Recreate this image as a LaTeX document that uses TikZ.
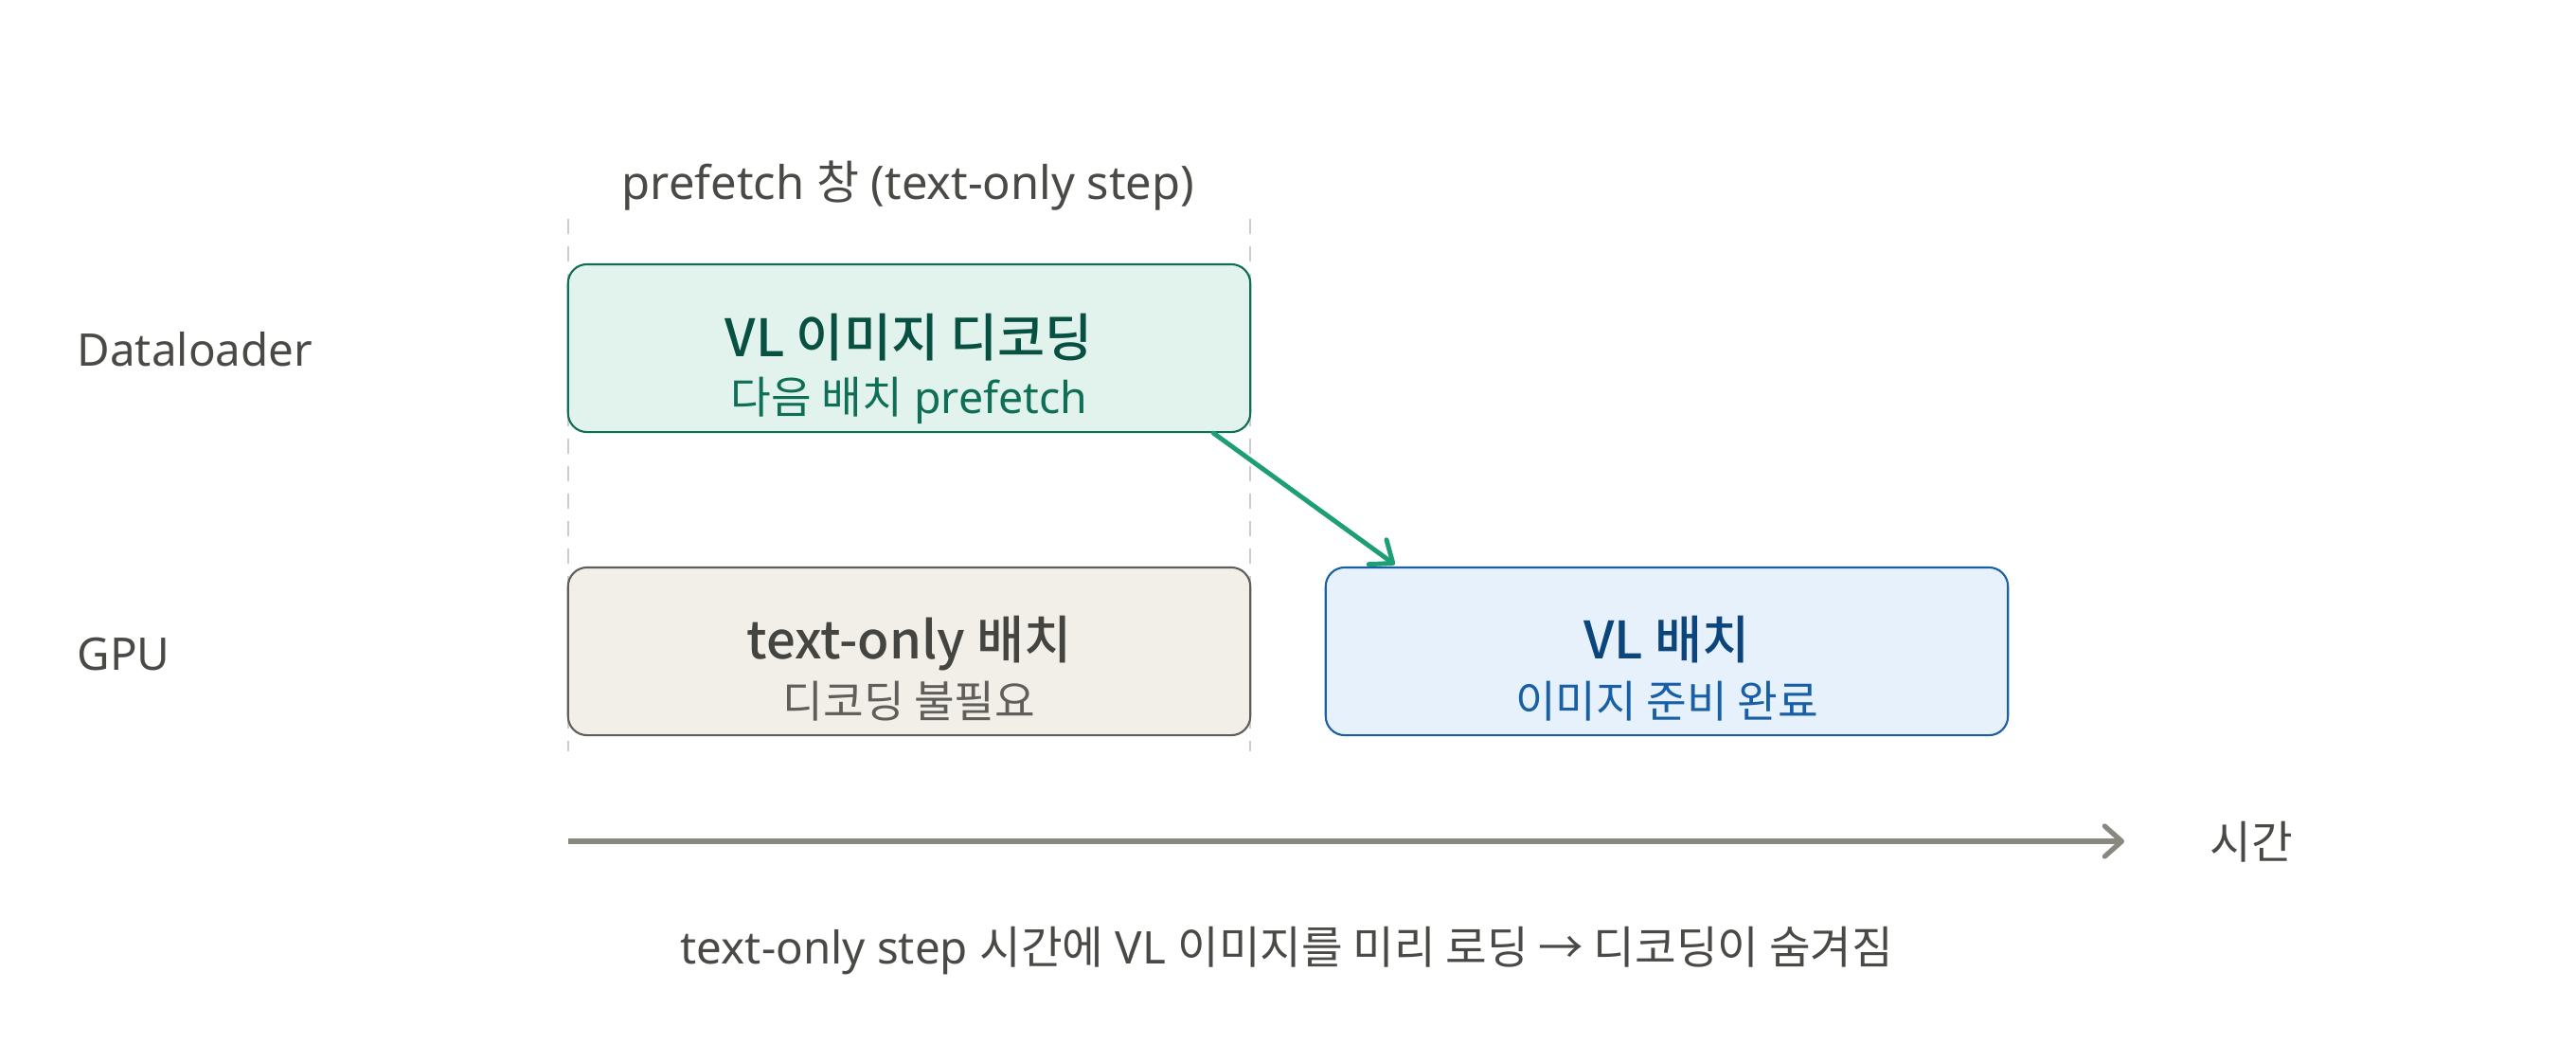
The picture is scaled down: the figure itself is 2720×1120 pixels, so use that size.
\documentclass[tikz,border=0pt]{standalone}
\usepackage{fontspec}
\setmainfont{Noto Sans}
\newfontfamily\kr{Noto Sans CJK KR}[BoldFont={Noto Sans CJK KR Medium}]
\usetikzlibrary{arrows.meta}
\definecolor{lbl}{HTML}{4A4945}
\definecolor{gfill}{HTML}{E1F3EC}
\definecolor{gdraw}{HTML}{0F6E56}
\definecolor{gtitle}{HTML}{085041}
\definecolor{gsub}{HTML}{0F6E56}
\definecolor{garrow}{HTML}{1D9E75}
\definecolor{nfill}{HTML}{F1EFE8}
\definecolor{ndraw}{HTML}{5F5E5A}
\definecolor{ntitle}{HTML}{444441}
\definecolor{nsub}{HTML}{5F5E5A}
\definecolor{bfill}{HTML}{E6F1FB}
\definecolor{bdraw}{HTML}{185FA5}
\definecolor{btitle}{HTML}{0C447C}
\definecolor{bsub}{HTML}{185FA5}
\definecolor{axiscol}{HTML}{888780}
\definecolor{dashcol}{HTML}{CCCCCC}
\tikzset{
  box/.style={rectangle, rounded corners=0.2cm, minimum width=7.2cm, minimum height=1.77cm, line width=0.6pt, inner sep=0pt},
  lab/.style={font=\fontsize{13.5}{16}\selectfont, text=lbl, inner sep=0pt, anchor=base},
  ttl/.style={font=\fontsize{15.5}{18}\selectfont\kr\bfseries, inner sep=0pt, anchor=base},
  sub/.style={font=\fontsize{13.2}{15}\selectfont, inner sep=0pt, anchor=base},
  guide/.style={draw=dashcol, line width=0.55pt, dash pattern=on 0.16cm off 0.13cm},
  flow/.style={draw=garrow, line width=1.4pt, line cap=round, -{Straight Barb[length=0.2cm, width=0.32cm, line cap=round, line join=round]}},
  timeaxis/.style={draw=axiscol, line width=1.5pt, -{Straight Barb[length=0.18cm, width=0.32cm, line cap=round, line join=round]}},
}
\begin{document}
\begin{tikzpicture}[x=0.01cm, y=-0.01cm]
\useasboundingbox (0,0) rectangle (2720,1120);
% guides
\coordinate (d1a) at (600,231);
\coordinate (d1b) at (600,793);
\coordinate (d2a) at (1320,231);
\coordinate (d2b) at (1320,793);
\draw[guide] (d1a) -- (d1b);
\draw[guide] (d2a) -- (d2b);
% title
\node[lab, anchor=base, font=\fontsize{13.9}{16}\selectfont] (wtitle) at (959,210) {prefetch {\kr 창} (text-only step)};
% row labels
\node[lab, anchor=base west] (rowdl) at (81,386) {Dataloader};
\node[lab, anchor=base west] (rowgpu) at (81,707) {GPU};
% boxes
\node[box, draw=gdraw, fill=gfill] (g) at (960,367.5) {};
\node[box, draw=ndraw, fill=nfill] (n) at (960,687.5) {};
\node[box, draw=bdraw, fill=bfill] (b) at (1760,687.5) {};
\node[ttl, text=gtitle] (gt) at (960,376) {VL 이미지 디코딩};
\node[sub, text=gsub] (gs) at (960,436) {{\kr 다음 배치} prefetch};
\node[ttl, text=ntitle] (nt) at (960,695) {text-only 배치};
\node[sub, text=nsub] (ns) at (960,757) {\kr 디코딩 불필요};
\node[ttl, text=btitle] (bt) at (1760,695) {VL 배치};
\node[sub, text=bsub] (bs) at (1760,757) {\kr 이미지 준비 완료};
% flow arrow
\draw[flow] ([xshift=-0.4cm]g.south east) -- ([xshift=0.74cm, yshift=0.02cm]b.north west);
% time axis
\coordinate (ax0) at (600,888);
\coordinate (ax1) at (2243,888);
\draw[timeaxis] (ax0) -- (ax1);
\node[lab, anchor=base west] (tlab) at (2333,906) {\kr 시간};
% caption
\node[lab, anchor=base] (cap) at (1359,1017) {text-only step {\kr 시간에} VL {\kr 이미지를 미리 로딩 → 디코딩이 숨겨짐}};
\end{tikzpicture}
\end{document}
